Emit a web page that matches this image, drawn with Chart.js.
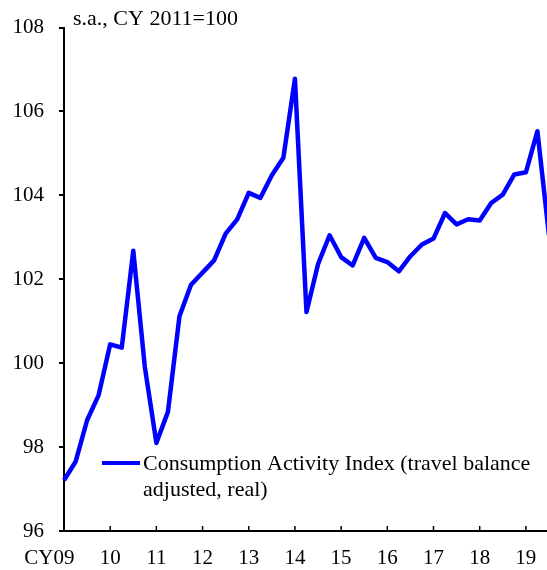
<!DOCTYPE html>
<html>
<head>
<meta charset="utf-8">
<script src="https://cdn.jsdelivr.net/npm/chart.js@4.4.0/dist/chart.umd.min.js"></script>
<style>
  html,body{margin:0;padding:0;background:#fff;}
</style>
</head>
<body>
<canvas id="chart" width="547" height="570"></canvas>
<script>
// ---- data ----
const quarters = [
  '09Q1','09Q2','09Q3','09Q4','10Q1','10Q2','10Q3','10Q4',
  '11Q1','11Q2','11Q3','11Q4','12Q1','12Q2','12Q3','12Q4',
  '13Q1','13Q2','13Q3','13Q4','14Q1','14Q2','14Q3','14Q4',
  '15Q1','15Q2','15Q3','15Q4','16Q1','16Q2','16Q3','16Q4',
  '17Q1','17Q2','17Q3','17Q4','18Q1','18Q2','18Q3','18Q4',
  '19Q1','19Q2','19Q3'
];
const values = [
  97.21, 97.65, 98.64, 99.24, 100.45, 100.37, 102.68, 99.91,
  98.10, 98.84, 101.12, 101.87, 102.16, 102.45, 103.09, 103.43,
  104.06, 103.94, 104.48, 104.90, 106.78, 101.22, 102.36, 103.05,
  102.53, 102.33, 102.99, 102.51, 102.41, 102.19, 102.55, 102.83,
  102.97, 103.58, 103.31, 103.43, 103.40, 103.82, 104.02, 104.50,
  104.55, 105.53, 103.05
];
const yearLabels = ['09','10','11','12','13','14','15','16','17','18','19'];
const yTicks = [96, 98, 100, 102, 104, 106, 108];
const unitText = 's.a., CY 2011=100';
const seriesName = ['Consumption Activity Index (travel balance', 'adjusted, real)'];

const yearTicks = yearLabels.map(y => quarters.indexOf(y + 'Q1'));

Chart.defaults.font.family = '"Liberation Serif", "Times New Roman", serif';
Chart.defaults.font.size = 21;
Chart.defaults.color = '#000';

const X_PAD = 15;

// ---- extra drawing: inner x ticks, unit, CY prefix, legend ----
const extras = {
  id: 'extras',
  afterDraw(chart) {
    const {ctx, chartArea, scales: {x}} = chart;
    ctx.save();
    ctx.strokeStyle = '#000';
    ctx.lineWidth = 1.5;
    yearTicks.slice(1).forEach(v => {
      const px = x.getPixelForValue(v);
      ctx.beginPath();
      ctx.moveTo(px, chartArea.bottom);
      ctx.lineTo(px, chartArea.bottom - 5);
      ctx.stroke();
    });

    ctx.fillStyle = '#000';
    ctx.font = '22px "Liberation Serif"';
    ctx.textBaseline = 'alphabetic';
    ctx.textAlign = 'left';
    ctx.fillText(unitText, chartArea.left + 9, 25);

    // "CY" before first year label
    ctx.font = '21px "Liberation Serif"';
    const w0 = ctx.measureText(yearLabels[0]).width;
    ctx.textAlign = 'right';
    ctx.textBaseline = 'middle';
    ctx.fillText('CY', x.getPixelForValue(yearTicks[0]) - w0 / 2, x.top + X_PAD + 21 * 1.2 / 2);

    // legend
    const ds = chart.data.datasets[0];
    ctx.strokeStyle = ds.borderColor;
    ctx.lineWidth = 4;
    ctx.beginPath();
    ctx.moveTo(102, 463);
    ctx.lineTo(140, 463);
    ctx.stroke();
    ctx.font = '22px "Liberation Serif"';
    ctx.textAlign = 'left';
    ctx.textBaseline = 'alphabetic';
    ds.label.forEach((t, i) => ctx.fillText(t, 143, 470 + i * 26));
    ctx.restore();
  }
};

new Chart(document.getElementById('chart'), {
  type: 'line',
  data: {
    datasets: [{
      label: seriesName,
      data: values.map((v, i) => ({x: i, y: v})),
      borderColor: '#0000ff',
      borderWidth: 4.5,
      borderJoinStyle: 'round',
      pointRadius: 0,
      tension: 0,
      fill: false,
      clip: false
    }]
  },
  options: {
    responsive: false,
    animation: false,
    layout: {padding: {top: 27, right: 0, bottom: 0, left: 0}},
    plugins: {legend: {display: false}, tooltip: {enabled: false}},
    scales: {
      x: {
        type: 'linear',
        min: 0,
        max: 41.83,
        afterBuildTicks: s => { s.ticks = yearTicks.map(v => ({value: v})); },
        afterFit: s => { s.height = 39; s.paddingLeft = 0; s.paddingRight = 0; },
        grid: {display: false, drawTicks: false},
        border: {display: true, color: '#000', width: 2},
        ticks: {
          padding: X_PAD,
          maxRotation: 0,
          autoSkip: false,
          callback: v => yearLabels[yearTicks.indexOf(v)]
        }
      },
      y: {
        min: 96,
        max: 108,
        afterBuildTicks: s => { s.ticks = yTicks.map(v => ({value: v})); },
        afterFit: s => { s.width = 64; },
        grid: {drawOnChartArea: false, drawTicks: true, tickLength: 5, color: '#000', lineWidth: 2},
        border: {display: true, color: '#000', width: 2},
        ticks: {padding: 15}
      }
    }
  },
  plugins: [extras]
});
</script>
</body>
</html>
